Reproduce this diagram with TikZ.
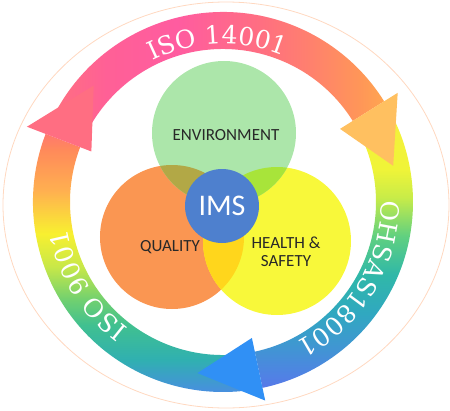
\documentclass[tikz,border=0pt]{standalone}
\usepackage{fontspec}
\setmainfont{Carlito}
\newfontfamily\ringfamily{DejaVu Serif}
\usepackage{xcolor}
\usepackage{tikz}
\usetikzlibrary{decorations.text}
\definecolor{envgreen}{RGB}{172,230,170}
\definecolor{qualorange}{RGB}{250,150,82}
\definecolor{hsyellow}{RGB}{248,248,58}
\definecolor{olivemix}{RGB}{178,168,70}
\definecolor{limemix}{RGB}{168,228,58}
\definecolor{goldmix}{RGB}{255,214,28}
\definecolor{imsblue}{RGB}{78,128,206}
\definecolor{wordgray}{RGB}{40,40,40}
\definecolor{peach}{RGB}{255,216,192}
\definecolor{headpink}{RGB}{255,110,130}
\definecolor{headorange}{RGB}{255,192,96}
\definecolor{headblue}{RGB}{48,144,245}
\definecolor{la}{RGB}{74,140,228}
\definecolor{lb}{RGB}{48,176,176}
\definecolor{lc}{RGB}{64,192,144}
\definecolor{ld}{RGB}{112,208,112}
\definecolor{le}{RGB}{200,232,72}
\definecolor{lf}{RGB}{248,240,48}
\definecolor{lg}{RGB}{255,176,80}
\definecolor{lh}{RGB}{255,138,90}
\definecolor{li}{RGB}{255,120,110}
\definecolor{ta}{RGB}{255,112,128}
\definecolor{tb}{RGB}{255,96,150}
\definecolor{tc}{RGB}{255,92,160}
\definecolor{td}{RGB}{255,110,130}
\definecolor{te}{RGB}{255,128,110}
\definecolor{tf}{RGB}{255,150,88}
\definecolor{tg}{RGB}{255,165,80}
\definecolor{ra}{RGB}{88,120,232}
\definecolor{rb}{RGB}{80,130,228}
\definecolor{rc}{RGB}{64,150,210}
\definecolor{rd}{RGB}{48,168,192}
\definecolor{re}{RGB}{48,184,168}
\definecolor{rf}{RGB}{96,208,128}
\definecolor{rg}{RGB}{200,236,72}
\definecolor{rh}{RGB}{240,244,56}
\definecolor{ri}{RGB}{245,240,60}
\pgfdeclareverticalshading{ringleft}{100bp}{color(0bp)=(la); color(25bp)=(la); color(31.8bp)=(lb); color(38.4bp)=(lc); color(43.2bp)=(ld); color(49.6bp)=(le); color(55.9bp)=(lf); color(64.1bp)=(lg); color(71.9bp)=(lh); color(75bp)=(li); color(100bp)=(li)}
\pgfdeclarehorizontalshading{ringtop}{100bp}{color(0bp)=(ta); color(25bp)=(ta); color(32.9bp)=(tb); color(43.7bp)=(tc); color(56bp)=(td); color(63.6bp)=(te); color(71.3bp)=(tf); color(75bp)=(tg); color(100bp)=(tg)}
\pgfdeclareverticalshading{ringright}{100bp}{color(0bp)=(ra); color(25bp)=(ra); color(27.2bp)=(rb); color(32.3bp)=(rc); color(38.3bp)=(rd); color(45.2bp)=(re); color(52bp)=(rf); color(58.9bp)=(rg); color(64bp)=(rh); color(75bp)=(ri); color(100bp)=(ri)}
\newcommand{\ringfont}{\ringfamily\fontsize{25}{25}\selectfont}
\newcommand{\ringin}{153}
\newcommand{\ringout}{190}
\newcommand{\ringtxt}{158}

\begin{document}
\begin{tikzpicture}[
    x=1pt, y=1pt,
    disc/.style={circle, draw=none, inner sep=0pt},
    word/.style={font=\fontsize{17}{18}\selectfont, text=wordgray, align=center, inner sep=0pt},
    core/.style={circle, fill=imsblue, inner sep=0pt, minimum size=74pt, text=white, font=\fontsize{30}{30}\selectfont},
    ringtext/.style={decorate, decoration={text along path, text align=center, text color=white}}
]
\useasboundingbox (-223,-208) rectangle (227,202);

\coordinate (rim) at (3,-3);
\draw[peach, line width=0.8pt] (rim) ellipse[x radius=223, y radius=203];

\shade[shading=ringleft] (159:\ringout) arc[start angle=159, end angle=280, radius=\ringout] -- (280:\ringin) arc[start angle=280, end angle=159, radius=\ringin] -- cycle;
\shade[shading=ringtop] (153:\ringout) arc[start angle=153, end angle=32, radius=\ringout] -- (32:\ringin) arc[start angle=32, end angle=153, radius=\ringin] -- cycle;
\shade[shading=ringright] (30:\ringout) arc[start angle=30, end angle=-78, radius=\ringout] -- (-78:\ringin) arc[start angle=-78, end angle=30, radius=\ringin] -- cycle;

\fill[headpink] (159:141) -- (159:210) -- (138:174) -- cycle;
\fill[headorange] (32:138) -- (32:206) -- (12:174) -- cycle;
\fill[headblue] (-78:139) -- (-78:203) -- (-98.5:173) -- cycle;

\path[ringtext, decoration={text={|\ringfont|ISO 14001}}] (152:\ringtxt) arc[start angle=152, end angle=32, radius=\ringtxt];
\path[ringtext, decoration={text={|\ringfont|OHSAS18001}}] (34:\ringtxt) arc[start angle=34, end angle=-96, radius=\ringtxt];
\path[ringtext, decoration={text={|\ringfont|ISO 9001}}] (272:\ringtxt) arc[start angle=272, end angle=151, radius=\ringtxt];

\node[disc, fill=qualorange, minimum size=144pt] (qual) at (-51,-35) {};
\node[disc, fill=hsyellow, minimum size=148pt] (hs) at (54,-39) {};
\node[disc, fill=envgreen, minimum size=144pt] (env) at (1,69) {};
\begin{scope}
  \clip (qual.center) circle[radius=72];
  \fill[goldmix] (hs.center) circle[radius=74];
\end{scope}
\begin{scope}
  \clip (env.center) circle[radius=72];
  \fill[olivemix] (qual.center) circle[radius=72];
  \fill[limemix] (hs.center) circle[radius=74];
\end{scope}
\node[core] (ims) at (-1,-4) {IMS};

\node[word] (envtext) at (3,67) {ENVIRONMENT};
\node[word] (qualtext) at (-53,-45) {QUALITY};
\node[word] (hstext) at (63,-50) {HEALTH \&\\SAFETY};
\end{tikzpicture}
\end{document}
